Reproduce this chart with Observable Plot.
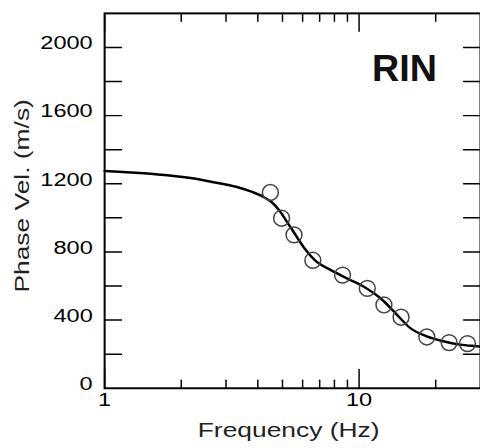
<!DOCTYPE html>
<html><head><meta charset="utf-8">
<script src="https://cdn.jsdelivr.net/npm/d3@7"></script>
<script src="https://cdn.jsdelivr.net/npm/@observablehq/plot@0.6"></script>
<style>
html,body{margin:0;padding:0;background:#fff;overflow:hidden;}
#chart{width:480px;height:448px;overflow:hidden;}
</style></head><body><div id="chart"></div>
<script>
// Fitted dispersion curve (frequency Hz, phase velocity m/s)
const curveFreq = [1, 1.18, 1.59, 2.14, 2.89, 3.36, 3.8, 4.2, 4.55, 4.85, 5.2, 5.58, 6.11, 6.68, 7.75, 9.0, 10.45, 12.14, 14.1, 15.9, 18.45, 21.4, 24.9, 28.9, 30];
const curveVel  = [1275, 1269, 1256, 1236, 1200, 1178, 1152, 1124, 1090, 1045, 978, 908, 820, 753, 693, 644, 596, 528, 431, 353, 305, 276, 256, 247, 245];
// Observed phase velocities
const obsFreq = [4.48, 4.96, 5.55, 6.58, 8.61, 10.77, 12.52, 14.62, 18.46, 22.58, 26.66];
const obsVel  = [1149, 998, 900, 751, 664, 586, 489, 417, 301, 268, 262];
// Axes
const yMinorTicks = [200, 400, 600, 800, 1000, 1200, 1400, 1600, 1800, 2000];
const yTickLabels = [0, 400, 800, 1200, 1600, 2000];
const xMajorTicks = [1, 10];
const xMinorTicks = [2, 3, 4, 5, 6, 7, 8, 9, 20];
const siteLabel = ["RIN"];
const xTitle = ["Frequency (Hz)"];
const yTitle = ["Phase Vel. (m/s)"];

const curve = curveFreq.map((f, i) => ({f, v: curveVel[i]}));
const obs = obsFreq.map((f, i) => ({f, v: obsVel[i]}));
const tickShape = {draw(ctx, l) { ctx.moveTo(0, 0); ctx.lineTo(0, -l); }};
const tk = (data, opts) => Plot.vector(data, {anchor: "start", shape: tickShape, stroke: "black", strokeWidth: 1.5, ...opts});

const svg = Plot.plot({
  width: 484, height: 448,
  marginLeft: 105, marginRight: 0, marginTop: 13, marginBottom: 57,
  style: {fontFamily: "'Liberation Sans', Arial, sans-serif", fontSize: "18px", background: "#fff", overflow: "visible"},
  x: {type: "log", domain: [1, 30], label: null},
  y: {domain: [0, 2200], label: null},
  marks: [
    tk(yMinorTicks, {y: d => d, frameAnchor: "left", rotate: 90, length: 17}),
    tk(yMinorTicks, {y: d => d, frameAnchor: "right", rotate: -90, length: 17}),
    tk(xMajorTicks, {x: d => d, frameAnchor: "bottom", rotate: 0, length: 19}),
    tk(xMinorTicks, {x: d => d, frameAnchor: "bottom", rotate: 0, length: 8}),
    tk(xMajorTicks, {x: d => d, frameAnchor: "top", rotate: 180, length: 18}),
    tk(xMinorTicks, {x: d => d, frameAnchor: "top", rotate: 180, length: 8}),
    Plot.frame({stroke: "black", strokeWidth: 2}),
    Plot.axisY({anchor: "left", ticks: yTickLabels, tickSize: 0, tickPadding: 12, dy: -4, fontSize: 18, tickFormat: d => String(d), label: null}),
    Plot.axisX({anchor: "bottom", ticks: xMajorTicks, tickSize: 0, tickPadding: 5, fontSize: 18, tickFormat: d => String(d), label: null}),
    Plot.line(curve, {x: "f", y: "v", curve: "monotone-x", stroke: "black", strokeWidth: 2.5}),
    Plot.dot(obs, {x: "f", y: "v", r: 8, stroke: "#444", strokeWidth: 1.5, fill: "none"}),
    Plot.text(siteLabel, {text: d => d, frameAnchor: "top-right", textAnchor: "end", lineAnchor: "top", dx: -44, dy: 41, fontSize: 38, fontWeight: "bold", fill: "#111"}),
    Plot.text(xTitle, {text: d => d, frameAnchor: "bottom", textAnchor: "middle", lineAnchor: "middle", dx: -4, dy: 43, fontSize: 20, fill: "#222"}),
    Plot.text(yTitle, {text: d => d, frameAnchor: "left", textAnchor: "middle", lineAnchor: "middle", rotate: -90, dx: -83, dy: -5, fontSize: 20, fill: "#222"})
  ]
});

svg.querySelectorAll("text").forEach(t => {
  const s = t.textContent;
  const k = s === siteLabel[0] ? 1.0 : (s === xTitle[0] || s === yTitle[0]) ? 1.33 : 1.32;
  t.setAttribute("transform", (t.getAttribute("transform") || "") + ` scale(${k},1)`);
});
document.getElementById("chart").appendChild(svg);
</script>
</body></html>
